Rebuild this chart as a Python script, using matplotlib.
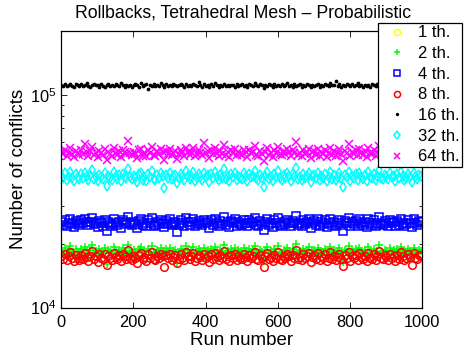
import numpy as np
import matplotlib
matplotlib.use("Agg")
import matplotlib.pyplot as plt
from matplotlib.ticker import LogLocator, FixedLocator

plt.rcParams["font.family"] = ["Liberation Sans", "DejaVu Sans"]
plt.rcParams["mathtext.fontset"] = "custom"
plt.rcParams["mathtext.rm"] = "Liberation Sans"
plt.rcParams["mathtext.it"] = "Liberation Sans"

# run numbers (every 5th run shown)
runs = np.arange(1, 1001, 5)

# conflicts per run, in thousands
th1 = []  # no rollbacks with a single thread
th2 = [18.5, 18.1, 19.0, 17.8, 18.6, 19.4, 18.2, 17.6, 18.9, 18.3, 17.9, 18.8, 18.0, 19.2, 18.4, 17.7, 18.7, 19.6, 18.1, 18.5,
       17.5, 18.9, 18.3, 18.0, 19.1, 16.1, 18.6, 18.2, 17.8, 19.3, 18.4, 18.0, 18.7, 17.6, 19.0, 18.5, 18.1, 19.8, 18.3, 17.9,
       18.6, 18.2, 17.4, 18.8, 19.2, 18.0, 18.4, 17.7, 18.9, 18.3, 19.5, 18.1, 17.8, 18.6, 18.2, 19.0, 18.5, 17.6, 18.8, 18.3,
       19.1, 17.9, 18.4, 18.7, 16.3, 18.1, 18.9, 18.3, 17.8, 19.4, 18.6, 18.0, 18.5, 19.2, 17.7, 18.2, 18.8, 18.4, 17.9, 19.0,
       18.3, 18.6, 17.5, 18.9, 18.1, 19.3, 18.4, 17.8, 18.7, 18.2, 19.7, 18.0, 18.5, 17.6, 18.8, 18.3, 19.1, 17.9, 18.6, 18.2,
       18.0, 19.0, 18.4, 17.7, 18.9, 18.3, 18.6, 19.5, 18.1, 17.8, 18.7, 18.2, 16.6, 18.5, 19.2, 18.0, 18.4, 17.6, 18.8, 18.3,
       19.4, 18.1, 17.9, 18.6, 18.2, 19.0, 18.5, 17.7, 18.8, 18.3, 19.9, 18.0, 18.4, 17.8, 18.9, 18.2, 18.6, 19.2, 17.5, 18.4,
       18.7, 18.1, 19.1, 17.9, 18.5, 18.2, 18.9, 17.6, 18.3, 19.3, 18.0, 18.6, 17.8, 18.4, 19.0, 18.1, 16.4, 18.7, 18.3, 19.4,
       17.7, 18.5, 18.2, 18.8, 17.9, 19.1, 18.4, 18.0, 18.6, 17.6, 19.2, 18.3, 18.1, 18.9, 17.8, 18.5, 19.6, 18.2, 18.0, 18.7,
       18.4, 17.9, 19.0, 18.3, 18.6, 17.7, 18.8, 18.1, 19.3, 18.5, 17.8, 18.2, 18.9, 18.4, 17.6, 19.1, 18.3, 18.0, 18.7, 18.5]
th4 = [25.3, 24.6, 25.9, 24.2, 25.1, 26.0, 24.8, 24.0, 25.6, 25.0, 24.4, 25.7, 24.9, 26.2, 25.2, 24.5, 25.4, 26.5, 24.7, 25.1,
       23.9, 25.5, 24.9, 24.3, 25.8, 23.0, 25.2, 24.7, 24.1, 26.1, 25.0, 24.6, 25.4, 23.8, 25.9, 25.3, 24.8, 26.7, 24.9, 24.4,
       25.2, 24.8, 23.7, 25.6, 26.0, 24.5, 25.1, 24.2, 25.7, 24.9, 26.4, 24.6, 24.3, 25.3, 24.7, 25.8, 25.0, 24.0, 25.5, 24.8,
       26.0, 24.4, 25.1, 25.4, 22.6, 24.6, 25.7, 25.0, 24.3, 26.3, 25.2, 24.5, 25.3, 26.1, 24.1, 24.8, 25.6, 25.0, 24.4, 25.9,
       24.9, 25.3, 23.8, 25.7, 24.6, 26.2, 25.0, 24.2, 25.5, 24.7, 26.8, 24.5, 25.2, 24.0, 25.6, 24.9, 26.0, 24.3, 25.4, 24.7,
       24.5, 25.9, 25.1, 24.1, 25.8, 24.9, 25.3, 26.4, 24.6, 24.2, 25.5, 24.8, 23.1, 25.2, 26.1, 24.5, 25.0, 23.9, 25.7, 24.9,
       26.3, 24.6, 24.3, 25.3, 24.8, 25.9, 25.1, 24.1, 25.6, 24.9, 27.0, 24.5, 25.0, 24.2, 25.8, 24.7, 25.3, 26.1, 23.8, 25.0,
       25.5, 24.6, 26.0, 24.3, 25.2, 24.8, 25.7, 24.0, 24.9, 26.2, 24.5, 25.3, 24.2, 25.0, 25.9, 24.6, 22.9, 25.5, 24.9, 26.3,
       24.1, 25.2, 24.8, 25.6, 24.3, 26.0, 25.0, 24.5, 25.4, 23.9, 26.1, 24.9, 24.6, 25.7, 24.2, 25.1, 26.6, 24.8, 24.5, 25.5,
       25.0, 24.3, 25.9, 24.9, 25.3, 24.1, 25.6, 24.6, 26.2, 25.1, 24.2, 24.8, 25.7, 25.0, 23.9, 26.0, 24.9, 24.5, 25.5, 25.2]
th8 = [17.4, 16.9, 17.8, 16.7, 17.5, 18.2, 17.1, 16.5, 17.7, 17.2, 16.8, 17.6, 16.9, 18.0, 17.3, 16.6, 17.5, 18.4, 17.0, 17.4,
       16.4, 17.8, 17.2, 16.9, 17.9, 15.8, 17.5, 17.1, 16.7, 18.1, 17.3, 16.9, 17.6, 16.5, 17.8, 17.4, 17.0, 18.6, 17.2, 16.8,
       17.5, 17.1, 16.3, 17.7, 18.0, 16.9, 17.3, 16.6, 17.8, 17.2, 18.3, 17.0, 16.7, 17.5, 17.1, 17.9, 17.4, 15.5, 17.6, 17.2,
       17.9, 16.8, 17.3, 17.6, 16.2, 17.0, 17.8, 17.2, 16.7, 18.2, 17.5, 16.9, 17.4, 18.0, 16.6, 17.1, 17.7, 17.3, 16.8, 17.9,
       17.2, 17.5, 16.4, 17.8, 17.0, 18.1, 17.3, 16.7, 17.6, 17.1, 18.5, 16.9, 17.4, 16.5, 17.7, 17.2, 17.9, 16.8, 17.5, 17.1,
       16.9, 17.8, 17.3, 16.6, 17.7, 17.2, 17.5, 18.3, 17.0, 16.7, 17.6, 17.1, 15.6, 17.4, 18.0, 16.9, 17.3, 16.5, 17.7, 17.2,
       18.2, 17.0, 16.8, 17.5, 17.1, 17.9, 17.4, 16.6, 17.7, 17.2, 18.7, 16.9, 17.3, 16.7, 17.8, 17.1, 17.5, 18.0, 16.4, 17.3,
       17.6, 17.0, 18.0, 16.8, 17.4, 17.1, 17.8, 16.5, 17.2, 18.2, 16.9, 17.5, 16.7, 17.3, 17.9, 17.0, 15.7, 17.6, 17.2, 18.3,
       16.6, 17.4, 17.1, 17.7, 16.8, 18.0, 17.3, 16.9, 17.5, 16.5, 18.1, 17.2, 17.0, 17.8, 16.7, 17.4, 18.4, 17.1, 16.9, 17.6,
       17.3, 16.8, 17.9, 17.2, 17.5, 16.6, 17.7, 17.0, 18.2, 17.4, 16.7, 17.1, 17.8, 17.3, 15.9, 18.0, 17.2, 16.9, 17.6, 17.4]
th16 = [111.2, 110.4, 112.6, 109.8, 111.9, 113.0, 110.6, 108.9, 112.3, 111.1, 109.7, 112.4, 110.3, 111.8, 113.5, 110.0, 109.4, 111.6, 112.8, 110.9,
        111.5, 109.1, 112.1, 110.7, 108.6, 111.3, 113.2, 110.5, 111.9, 109.9, 112.7, 111.0, 110.2, 114.1, 111.4, 109.6, 112.0, 110.8, 111.7, 108.8,
        110.9, 112.5, 111.2, 109.5, 113.3, 110.1, 111.6, 112.2, 106.9, 111.0, 110.4, 112.9, 109.8, 111.5, 110.7, 113.8, 111.1, 109.2, 112.3, 110.6,
        111.8, 110.0, 112.6, 111.3, 109.7, 110.9, 113.1, 111.6, 108.7, 112.1, 110.5, 111.4, 109.9, 112.8, 111.0, 110.3, 115.2, 111.7, 109.4, 112.4,
        110.8, 111.9, 109.6, 112.2, 110.1, 113.4, 111.2, 108.5, 111.5, 110.6, 112.9, 109.8, 111.3, 110.2, 112.0, 111.8, 109.1, 113.0, 110.7, 111.4,
        112.5, 110.4, 111.1, 109.3, 112.7, 111.6, 110.0, 113.6, 110.9, 109.7, 112.3, 111.0, 107.4, 111.8, 110.5, 112.1, 111.3, 109.5, 113.2, 110.8,
        111.7, 109.9, 112.4, 110.6, 111.2, 113.9, 110.3, 111.5, 109.0, 112.6, 110.1, 111.9, 112.2, 109.6, 111.0, 110.7, 113.1, 111.4, 108.9, 112.0,
        110.2, 111.6, 112.8, 109.4, 111.3, 110.5, 112.5, 111.1, 109.8, 113.3, 110.9, 111.8, 116.0, 110.4, 112.1, 109.2, 111.5, 110.0, 112.9, 111.2,
        109.7, 112.3, 110.8, 111.4, 113.5, 110.1, 111.9, 109.5, 112.0, 110.6, 111.7, 108.7, 112.7, 111.0, 110.3, 113.0, 111.6, 109.9, 112.4, 110.7,
        111.3, 110.0, 112.6, 109.3, 111.8, 110.5, 113.2, 111.1, 109.8, 112.2, 110.9, 111.5, 108.4, 112.8, 111.0, 110.2, 111.7, 109.6, 112.1, 110.8]
th32 = [41.6, 40.5, 42.8, 39.9, 41.2, 43.4, 40.8, 39.4, 42.3, 41.0, 40.2, 42.6, 40.7, 43.0, 41.5, 39.8, 41.9, 44.2, 40.4, 41.3,
        39.2, 42.1, 41.0, 40.1, 42.9, 37.3, 41.7, 40.6, 39.7, 43.5, 41.4, 40.3, 42.0, 39.5, 42.7, 41.6, 40.6, 44.8, 41.1, 40.2,
        41.8, 40.9, 39.0, 42.4, 43.1, 40.0, 41.3, 39.6, 42.6, 41.0, 44.0, 40.4, 39.8, 41.9, 40.7, 42.8, 41.5, 36.5, 42.2, 40.8,
        43.2, 40.1, 41.4, 42.0, 38.6, 40.5, 42.5, 41.1, 39.9, 43.7, 41.7, 40.3, 41.6, 43.3, 39.6, 40.9, 42.4, 41.2, 40.0, 42.9,
        41.0, 41.9, 38.9, 42.7, 40.6, 43.6, 41.3, 39.7, 42.2, 40.8, 45.0, 40.2, 41.5, 39.4, 42.5, 41.1, 43.0, 40.0, 41.8, 40.7,
        40.3, 42.8, 41.4, 39.5, 42.4, 41.0, 41.7, 44.1, 40.5, 39.9, 42.1, 40.9, 37.0, 41.6, 43.4, 40.4, 41.2, 39.3, 42.6, 41.1,
        43.8, 40.6, 40.0, 41.9, 40.8, 42.9, 41.5, 39.6, 42.3, 41.0, 45.3, 40.3, 41.3, 39.8, 42.7, 40.7, 41.8, 43.2, 38.8, 41.4,
        42.0, 40.5, 43.1, 39.9, 41.6, 40.8, 42.5, 39.3, 41.1, 43.5, 40.2, 41.9, 39.7, 41.3, 42.8, 40.6, 36.8, 42.1, 41.0, 43.6,
        39.5, 41.7, 40.9, 42.4, 40.0, 43.0, 41.2, 40.4, 41.9, 39.2, 43.3, 41.0, 40.5, 42.6, 39.8, 41.5, 44.5, 40.8, 40.3, 42.2,
        41.3, 40.1, 42.9, 41.0, 41.8, 39.6, 42.3, 40.6, 43.4, 41.5, 39.9, 40.8, 42.6, 41.2, 38.9, 43.1, 41.0, 40.4, 42.0, 41.6]
th64 = [53.9, 52.6, 55.2, 51.8, 53.4, 56.1, 52.9, 51.2, 54.8, 53.2, 52.1, 55.0, 52.8, 58.6, 53.7, 51.6, 54.3, 57.0, 52.4, 53.5,
        51.0, 54.5, 53.1, 52.0, 55.6, 49.2, 54.0, 52.7, 51.5, 56.4, 53.6, 52.3, 54.4, 51.3, 55.3, 53.9, 52.6, 60.8, 53.2, 52.2,
        54.2, 53.0, 50.7, 54.9, 55.8, 51.9, 53.5, 51.4, 55.1, 53.1, 57.2, 52.5, 51.7, 54.3, 52.8, 55.5, 53.8, 49.6, 54.7, 52.9,
        56.0, 52.1, 53.6, 54.4, 50.2, 52.6, 55.0, 53.3, 51.8, 56.6, 54.1, 52.3, 53.9, 56.2, 51.4, 53.0, 54.9, 53.4, 52.0, 59.5,
        53.2, 54.3, 50.5, 55.3, 52.7, 56.5, 53.6, 51.6, 54.7, 52.9, 58.1, 52.2, 53.8, 51.2, 55.0, 53.3, 55.7, 52.0, 54.2, 52.8,
        52.3, 55.4, 53.7, 51.3, 55.0, 53.2, 54.0, 57.3, 52.5, 51.8, 54.6, 53.0, 48.8, 54.0, 56.3, 52.4, 53.5, 51.1, 55.2, 53.3,
        56.8, 52.7, 52.0, 54.4, 52.9, 55.6, 53.8, 51.5, 54.9, 53.2, 60.3, 52.3, 53.6, 51.7, 55.4, 52.8, 54.2, 56.0, 50.6, 53.7,
        54.5, 52.5, 55.9, 51.9, 54.0, 52.9, 55.1, 51.1, 53.3, 56.4, 52.2, 54.3, 51.6, 53.6, 55.5, 52.7, 49.0, 54.6, 53.1, 58.9,
        51.4, 54.1, 53.0, 55.0, 52.0, 55.8, 53.4, 52.5, 54.3, 51.0, 56.2, 53.2, 52.6, 55.2, 51.8, 53.9, 57.7, 52.9, 52.3, 54.7,
        53.6, 52.1, 55.6, 53.2, 54.2, 51.5, 54.9, 52.6, 56.3, 53.8, 51.9, 52.9, 55.3, 53.5, 50.8, 56.0, 53.1, 52.4, 54.5, 53.9]

labels = ["1 th.", "2 th.", "4 th.", "8 th.", "16 th.", "32 th.", "64 th."]
series = [th1, th2, th4, th8, th16, th32, th64]
markers = ["o", "+", "s", "o", ".", "d", "x"]
colors = ["#ffff00", "#00ff00", "#0000ff", "#ff0000", "#000000", "#00ffff", "#ff00ff"]

fig = plt.figure(figsize=(4.66, 3.52), dpi=100)
ax = fig.add_axes([0.131, 0.126, 0.775, 0.786])

for vals, lab, mk, col in zip(series, labels, markers, colors):
    y = np.asarray(vals, dtype=float) * 1000.0
    x = runs[:len(y)]
    ms = 3.2 if mk == "." else 5.5
    ax.plot(x, y, linestyle="none", marker=mk, markersize=ms,
            markerfacecolor="none" if mk != "." else col,
            markeredgecolor=col, markeredgewidth=1.1, label=lab)

ax.set_yscale("log")
ax.set_xlim(0, 1000)
ax.set_ylim(1e4, 2e5)
ax.xaxis.set_major_locator(FixedLocator([0, 200, 400, 600, 800, 1000]))
ax.yaxis.set_major_locator(LogLocator(base=10, numticks=5))
ax.yaxis.set_minor_locator(LogLocator(base=10, subs=np.arange(2, 10), numticks=12))
ax.tick_params(which="both", direction="in", top=True, right=True, labelsize=11.8, width=0.6)
ax.tick_params(which="major", length=4)
ax.tick_params(which="minor", length=2.2)
ax.tick_params(axis="x", pad=5.5)
for sp in ax.spines.values():
    sp.set_linewidth(0.9)

ax.set_xlabel("Run number", fontsize=13.5, labelpad=1)
ax.set_ylabel("Number of conflicts", fontsize=13.5, labelpad=2)
fig.text(0.522, 0.964, "Rollbacks, Tetrahedral Mesh \u2013 Probabilistic",
         ha="center", va="center", fontsize=12.7)

leg = fig.legend(loc="upper right", bbox_to_anchor=(0.991, 0.935), fontsize=12,
                 frameon=True, fancybox=False, framealpha=1, edgecolor="black",
                 handlelength=2.0, handletextpad=0.25, labelspacing=0.34,
                 borderpad=0.15, borderaxespad=0, numpoints=1, markerscale=0.8)
leg.get_frame().set_linewidth(0.9)

fig.savefig("out.png", dpi=100)
